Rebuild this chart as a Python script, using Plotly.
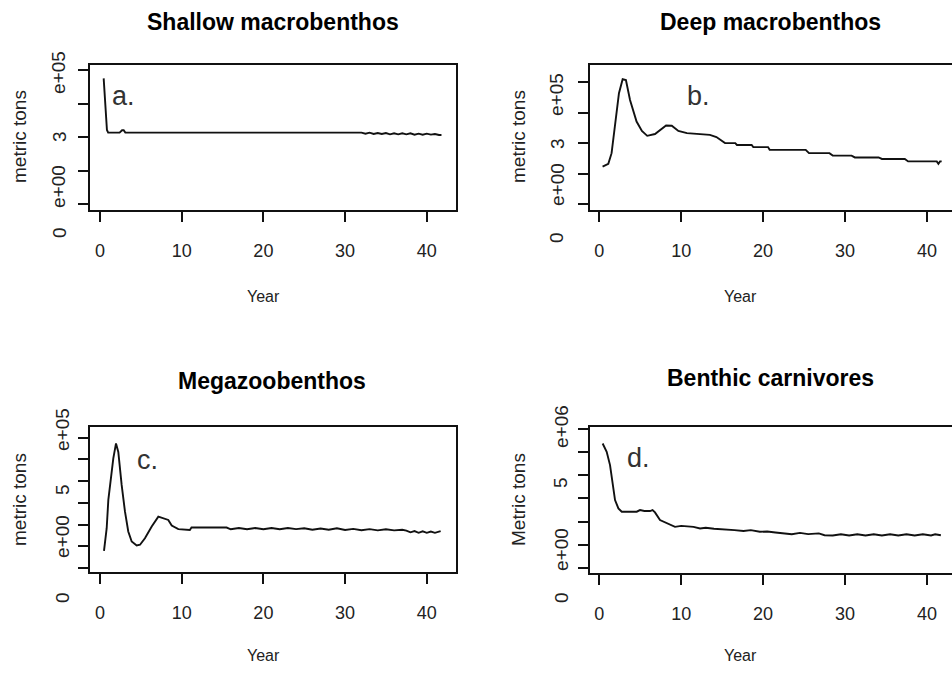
import plotly.graph_objects as go

W, H = 952, 675

# ---------------- data ----------------
titles = ["Shallow macrobenthos", "Deep macrobenthos", "Megazoobenthos", "Benthic carnivores"]
panel_letters = ["a.", "b.", "c.", "d."]
y_titles = ["metric tons", "metric tons", "metric tons", "Metric tons"]
x_title = "Year"
x_ticks = [0, 10, 20, 30, 40]

year_a = [0.45, 0.6, 0.7, 0.85, 1.0, 2.4, 2.7, 2.9, 3.1, 10.0, 20.0, 32.0,
          32.5, 33.0, 33.5, 34.0, 34.5, 35.0, 35.5, 36.0, 36.5, 37.0, 37.5,
          38.0, 38.5, 39.0, 39.5, 40.0, 40.5, 41.0, 41.5, 41.8]
tons_a = [475000, 405000, 400000, 321000, 313000, 313000, 320000, 320000, 313000,
          313000, 313000, 313000,
          310000, 313000, 309000, 312000, 309000, 312000, 308000, 311000, 308000,
          311000, 308000, 311000, 307000, 310000, 307000, 310000, 307000, 309000,
          306000, 306000]

year_b = [0.4, 1.1, 1.5, 1.9, 2.4, 2.85, 3.25, 3.75, 4.55, 5.2, 5.85, 6.8, 7.5,
          8.15, 8.85, 9.65, 10.7, 12.0, 13.5, 14.3, 15.35, 16.6, 16.8, 18.6, 18.8,
          20.6, 20.8, 25.2, 25.6, 28.1, 28.5, 30.8, 31.2, 34.1, 34.5, 37.3, 37.7,
          41.2, 41.4, 41.6, 41.8]
tons_b = [223000, 232000, 267000, 354000, 464000, 510000, 507000, 442000, 371000,
          340000, 324000, 330000, 345000, 358000, 357000, 340000, 333000, 330000,
          327000, 320000, 300000, 300000, 294000, 294000, 287000, 287000, 278000,
          278000, 267000, 267000, 259000, 259000, 253000, 253000, 248000, 248000,
          240000, 240000, 232000, 240000, 240000]

year_c = [0.49, 0.82, 1.02, 1.31, 1.63, 1.96, 2.24, 2.65, 3.06, 3.46, 3.88, 4.49,
          4.9, 5.5, 6.33, 7.14, 7.75, 8.36, 8.78, 9.59, 11.0, 11.2, 15.5,
          16.0, 17.0, 18.0, 19.0, 20.0, 21.0, 22.0, 23.0, 24.0, 25.0, 26.0, 27.0,
          28.0, 29.0, 30.0, 31.0, 32.0, 33.0, 34.0, 35.0, 36.0, 37.0, 37.5, 38.0,
          38.5, 39.0, 39.5, 40.0, 40.5, 41.0, 41.7]
tons_c = [79000, 183000, 313000, 400000, 504000, 573000, 534000, 382000, 259000,
          168000, 122000, 104000, 107000, 137000, 191000, 236000, 229000, 221000,
          195000, 179000, 175000, 186000, 186000,
          178000, 184000, 178000, 184000, 178000, 184000, 178000, 184000, 179000,
          183000, 176000, 182000, 176000, 183000, 175000, 180000, 174000, 179000,
          173000, 178000, 173000, 176000, 172000, 164000, 170000, 162000, 169000,
          162000, 168000, 162000, 170000]

year_d = [0.41, 0.9, 1.31, 1.63, 1.92, 2.33, 2.74, 4.57, 4.8, 4.97, 5.5, 6.19,
          6.5, 6.8, 7.41, 8.22, 9.24, 10.0, 11.5, 12.3, 13.0, 14.0, 15.5, 16.5,
          17.6, 18.5, 19.6, 20.5, 21.5, 22.9, 23.5, 24.5, 25.5, 26.8, 27.5,
          28.5, 29.5, 30.5, 31.5, 32.5, 33.5, 34.5, 35.5, 36.5, 37.5, 38.5, 39.5,
          40.5, 41.0, 41.7]
tons_d = [5360000, 5000000, 4430000, 3710000, 2930000, 2570000, 2430000, 2430000,
          2480000, 2500000, 2460000, 2460000, 2500000, 2400000, 2070000, 1930000,
          1780000, 1820000, 1780000, 1710000, 1740000, 1700000, 1680000, 1640000,
          1600000, 1640000, 1570000, 1580000, 1540000, 1500000, 1460000, 1520000,
          1470000, 1500000, 1420000,
          1410000, 1460000, 1410000, 1460000, 1410000, 1460000, 1410000, 1460000,
          1410000, 1460000, 1410000, 1460000, 1410000, 1460000, 1420000]

y_ticks_a = [100000, 200000, 300000, 400000, 500000]
y_ticks_b = [100000, 200000, 300000, 400000, 500000]
y_ticks_c = [0, 100000, 200000, 300000, 400000, 500000, 600000]
y_ticks_d = [0, 1000000, 2000000, 3000000, 4000000, 5000000, 6000000]

y_label_parts_a = ["0", "e+00", "3", "e+05"]
y_label_parts_b = ["0", "e+00", "3", "e+05"]
y_label_parts_c = ["0", "e+00", "5", "e+05"]
y_label_parts_d = ["0", "e+00", "5", "e+06"]

# ---------------- layout geometry (pixels) ----------------
SANS = "Liberation Sans, Arial, sans-serif"

panels = [
    dict(x=year_a, y=tons_a, yt=y_ticks_a, parts=y_label_parts_a,
         box=(89, 457, 64, 211), xr=(-1.346, 43.70), yr=(79100, 517900),
         title_xy=(273, 22), ylab_xy=(19, 137), year_xy=(263, 297),
         letter_xy=(123, 96), part_x=59, part_y=[233, 187, 137, 73]),
    dict(x=year_b, y=tons_b, yt=y_ticks_b, parts=y_label_parts_b,
         box=(589, 960, 64, 211), xr=(-1.258, 43.06), yr=(77000, 560000),
         title_xy=(770, 22), ylab_xy=(518, 137), year_xy=(740, 297),
         letter_xy=(698, 96), part_x=557, part_y=[238, 185, 144, 95]),
    dict(x=year_c, y=tons_c, yt=y_ticks_c, parts=y_label_parts_c,
         box=(89, 457, 426, 573), xr=(-1.346, 43.70), yr=(-22900, 653000),
         title_xy=(272, 381), ylab_xy=(19, 500), year_xy=(263, 655),
         letter_xy=(147, 460), part_x=62, part_y=[598, 537, 490, 430]),
    dict(x=year_d, y=tons_d, yt=y_ticks_d, parts=y_label_parts_d,
         box=(589, 960, 426, 574), xr=(-1.258, 43.06), yr=(-244000, 6110000),
         title_xy=(770, 378), ylab_xy=(518, 500), year_xy=(740, 655),
         letter_xy=(638, 458), part_x=561, part_y=[598, 550, 483, 427]),
]

fig = go.Figure()
annotations = []
shapes = []


def px(x):
    return x / W


def py(y):
    return 1 - y / H


for i, p in enumerate(panels):
    n = "" if i == 0 else str(i + 1)
    xa, ya = "x" + n, "y" + n
    fig.add_trace(go.Scatter(x=p["x"], y=p["y"], mode="lines",
                             line=dict(color="#111111", width=1.9),
                             xaxis=xa, yaxis=ya, showlegend=False,
                             hoverinfo="skip"))
    x0, x1, y0, y1 = p["box"]
    dom_x = [px(x0), min(1.0, px(x1))]
    dom_y = [py(y1), py(y0)]
    fig.layout["xaxis" + n] = dict(
        domain=dom_x, range=list(p["xr"]), anchor=ya,
        tickvals=x_ticks, ticktext=[str(t) for t in x_ticks],
        ticks="outside", ticklen=10, tickwidth=2, tickcolor="#111",
        showgrid=False, zeroline=False, showline=False,
        tickfont=dict(family=SANS, size=18, color="#222"),
        ticklabelstandoff=13,
    )
    fig.layout["yaxis" + n] = dict(
        domain=dom_y, range=list(p["yr"]), anchor=xa,
        tickvals=p["yt"], showticklabels=False,
        ticks="outside", ticklen=10, tickwidth=2, tickcolor="#111",
        showgrid=False, zeroline=False, showline=False,
    )
    shapes.append(dict(type="rect", xref="paper", yref="paper",
                       x0=px(x0), x1=px(x1), y0=py(y1), y1=py(y0),
                       line=dict(color="#111", width=2), layer="above"))
    tx, ty = p["title_xy"]
    annotations.append(dict(text="<b>" + titles[i] + "</b>", x=px(tx), y=py(ty),
                            xref="paper", yref="paper", showarrow=False,
                            xanchor="center", yanchor="middle",
                            font=dict(family=SANS, size=23, color="#000")))
    lx, ly = p["ylab_xy"]
    annotations.append(dict(text=y_titles[i], x=px(lx), y=py(ly), textangle=-90,
                            xref="paper", yref="paper", showarrow=False,
                            xanchor="center", yanchor="middle",
                            font=dict(family=SANS, size=19, color="#222")))
    yx, yy = p["year_xy"]
    annotations.append(dict(text=x_title, x=px(yx), y=py(yy),
                            xref="paper", yref="paper", showarrow=False,
                            xanchor="center", yanchor="middle",
                            font=dict(family=SANS, size=16, color="#222")))
    cx, cy = p["letter_xy"]
    annotations.append(dict(text=panel_letters[i], x=px(cx), y=py(cy),
                            xref="paper", yref="paper", showarrow=False,
                            xanchor="center", yanchor="middle",
                            font=dict(family=SANS, size=27, color="#333")))
    for t, yy2 in zip(p["parts"], p["part_y"]):
        annotations.append(dict(text=t, x=px(p["part_x"]), y=py(yy2), textangle=-90,
                                xref="paper", yref="paper", showarrow=False,
                                xanchor="center", yanchor="middle",
                                font=dict(family=SANS, size=19, color="#222")))

fig.update_layout(
    width=W, height=H, margin=dict(l=0, r=0, t=0, b=0),
    paper_bgcolor="white", plot_bgcolor="white",
    annotations=annotations, shapes=shapes, showlegend=False,
)

fig.write_html("out.html")
